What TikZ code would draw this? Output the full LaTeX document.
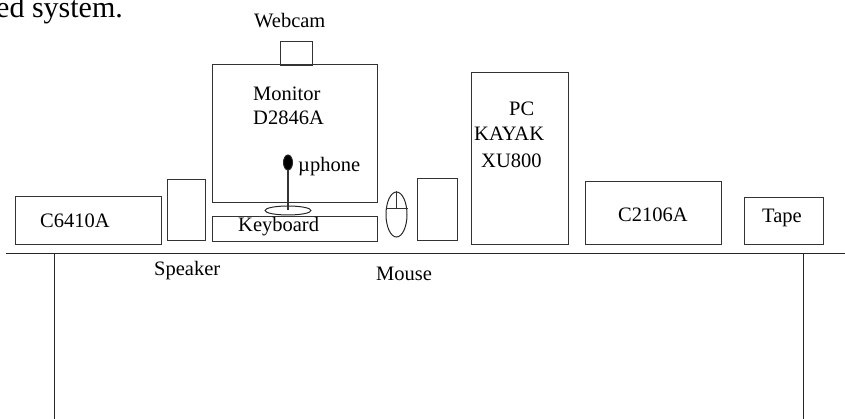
\documentclass[tikz,border=0pt]{standalone}
\usepackage{fontspec}
\setmainfont{Liberation Serif}
\usetikzlibrary{shapes.geometric}

\begin{document}
\begin{tikzpicture}[
  x=1pt, y=-1pt,
  font=\fontsize{20.5}{24}\selectfont,
  unit/.style={draw=black!80, line width=1.2pt, inner sep=0pt, anchor=north west},
  lbl/.style={inner sep=0pt, anchor=base west},
  oval/.style={draw=black!85, ellipse, line width=1pt, inner sep=0pt},
  table/.style={line width=0.9pt, black!85},
  stem/.style={line width=1.1pt, black!80},
]
\useasboundingbox (0,0) rectangle (845,419);

% text above the picture
\node[lbl, font=\fontsize{30}{36}\selectfont] (caption) at (-4,18) {ed system.};

% desk
\coordinate (deskL) at (6,253);
\coordinate (deskR) at (845,253);
\coordinate (legA) at (54,253);
\coordinate (legAend) at (54,419);
\coordinate (legB) at (803,253);
\coordinate (legBend) at (803,419);
\draw[table] (deskL) -- (deskR);
\draw[table] (legA) -- (legAend);
\draw[table] (legB) -- (legBend);

% boxes
\node[unit, minimum width=146pt, minimum height=48pt] (printer) at (15,196) {};
\node[unit, minimum width=38pt, minimum height=61pt] (spkL) at (167,179) {};
\node[unit, minimum width=165pt, minimum height=138pt] (monitor) at (212,64) {};
\node[unit, minimum width=32pt, minimum height=24pt] (webcam) at (280,41) {};
\node[unit, minimum width=165pt, minimum height=25pt] (keyboard) at (212,216) {};
\node[unit, minimum width=40pt, minimum height=62pt] (spkR) at (417,178) {};
\node[unit, minimum width=97pt, minimum height=172pt] (pc) at (471,72) {};
\node[unit, minimum width=136pt, minimum height=63pt] (scanner) at (585,181) {};
\node[unit, minimum width=79pt, minimum height=47pt] (tape) at (744,197) {};

% microphone
\node[oval, minimum width=46pt, minimum height=9pt] (micbase) at (288,210.5) {};
\node[oval, fill=black, minimum width=9pt, minimum height=15pt] (michead) at (288,162.5) {};
\draw[stem] (michead) -- (micbase.center);

% mouse
\node[oval, minimum width=21pt, minimum height=45pt] (mouse) at (396.5,214.5) {};
\coordinate (mouseMid) at (396.5,208);
\draw[stem, line width=0.9pt] (mouse.north) -- (mouseMid);
\draw[stem, line width=0.9pt] (mouse.west |- mouseMid) -- (mouse.east |- mouseMid);

% labels
\node[lbl] (webcamlbl) at (254,27.5) {Webcam};
\node[lbl] (monlbl) at (253,101) {Monitor};
\node[lbl] (monlblb) at (253,125) {D2846A};
\node[lbl] (miclbl) at (298,172) {µphone};
\node[lbl] (keylbl) at (238,232) {Keyboard};
\node[lbl] (printerlbl) at (40,228) {C6410A};
\node[lbl] (spklbl) at (154,276) {Speaker};
\node[lbl] (mouselbl) at (376,281) {Mouse};
\node[lbl] (pclbl) at (509,116) {PC};
\node[lbl] (pclblb) at (474,141) {KAYAK};
\node[lbl] (pclblc) at (481,168) {XU800};
\node[lbl] (scanlbl) at (618,222) {C2106A};
\node[lbl] (tapelbl) at (762,223) {Tape};

\end{tikzpicture}
\end{document}
